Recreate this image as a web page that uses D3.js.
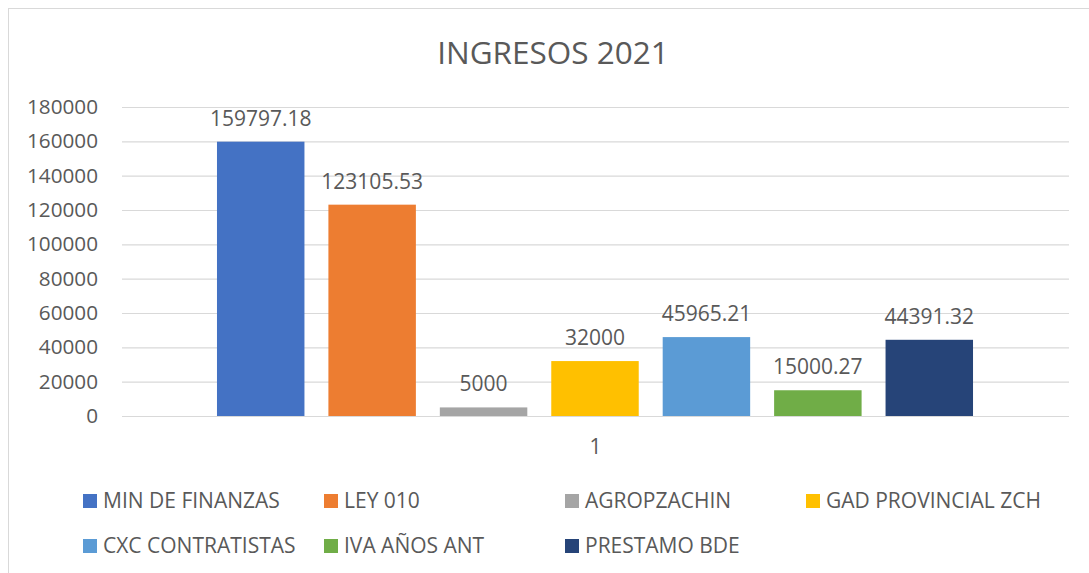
<!DOCTYPE html>
<html>
<head>
<meta charset="utf-8">
<script src="https://cdn.jsdelivr.net/npm/d3@7"></script>
<style>
	body { margin: 0; background: #fff; }
	text { font-family: "Open Sans", sans-serif; fill: #595959; }
</style>
</head>
<body>
<div id="chart-area"></div>
<script>

// Data
let seriesNames = ["MIN DE FINANZAS", "LEY 010", "AGROPZACHIN", "GAD PROVINCIAL ZCH",
	"CXC CONTRATISTAS", "IVA AÑOS ANT", "PRESTAMO BDE"];
let seriesValues = [159797.18, 123105.53, 5000, 32000, 45965.21, 15000.27, 44391.32];
let seriesColors = ["#4472C4", "#ED7D31", "#A5A5A5", "#FFC000", "#5B9BD5", "#70AD47", "#264478"];
let categories = ["1"];
let yTicks = [0, 20000, 40000, 60000, 80000, 100000, 120000, 140000, 160000, 180000];

// SVG Size
let width = 1089,
	height = 573;

let svg = d3.select("#chart-area")
	.append("svg")
	.attr("width", width)
	.attr("height", height);

// chart border
svg.append("rect")
	.attr("x", 8.5)
	.attr("y", 8.5)
	.attr("width", width + 20)
	.attr("height", height + 20)
	.attr("fill", "white")
	.attr("stroke", "#D9D9D9")
	.attr("stroke-width", 1);

let plot = { left: 122, right: 1069, top: 107, bottom: 416 };

let y = d3.scaleLinear()
	.domain([0, 180000])
	.range([plot.bottom, plot.top]);

let x0 = d3.scaleBand()
	.domain(categories)
	.range([plot.left, plot.right]);

let x1 = d3.scaleBand()
	.domain(seriesNames)
	.range([x0("1") + 83, x0("1") + x0.bandwidth() - 84])
	.paddingInner(0.215)
	.paddingOuter(0.1075);

// title
svg.append("text")
	.attr("x", 553)
	.attr("y", 64)
	.attr("text-anchor", "middle")
	.attr("font-size", 31.5)
	.text("INGRESOS 2021");

// y axis + gridlines
let yAxis = d3.axisLeft(y)
	.tickValues(yTicks)
	.tickSize(-(plot.right - plot.left))
	.tickPadding(24)
	.tickFormat(d3.format("d"));

let yg = svg.append("g")
	.attr("class", "axis y-axis")
	.attr("transform", "translate(" + plot.left + ",0)")
	.call(yAxis);
yg.select(".domain").remove();
yg.selectAll(".tick line").attr("stroke", "#D9D9D9").attr("stroke-width", 1.2);
yg.selectAll(".tick text")
	.attr("font-size", 20.7)
	.attr("font-family", "Open Sans, sans-serif")
	.attr("fill", "#595959");

// bars
let rows = seriesNames.map((name, i) => ({ name: name, value: seriesValues[i], color: seriesColors[i] }));

svg.selectAll("rect.bar")
	.data(rows)
	.enter()
	.append("rect")
	.attr("class", "bar")
	.attr("x", d => x1(d.name))
	.attr("y", d => y(d.value))
	.attr("width", x1.bandwidth())
	.attr("height", d => plot.bottom - y(d.value))
	.attr("fill", d => d.color);

// data labels
svg.selectAll("text.label")
	.data(rows)
	.enter()
	.append("text")
	.attr("class", "label")
	.attr("x", d => x1(d.name) + x1.bandwidth() / 2)
	.attr("y", d => y(d.value) - 16)
	.attr("text-anchor", "middle")
	.attr("font-size", 21)
	.text(d => d.value);

// category label
svg.append("text")
	.attr("x", x0("1") + x0.bandwidth() / 2)
	.attr("y", 454)
	.attr("text-anchor", "middle")
	.attr("font-size", 21)
	.text(categories[0]);

// legend
let legend = svg.selectAll("g.legend")
	.data(rows)
	.enter()
	.append("g")
	.attr("class", "legend")
	.attr("transform", (d, i) => "translate(" + (83 + (i % 4) * 241) + "," + (494 + Math.floor(i / 4) * 45) + ")");

legend.append("rect")
	.attr("width", 14)
	.attr("height", 14)
	.attr("fill", d => d.color);

legend.append("text")
	.attr("x", 20)
	.attr("y", 14)
	.attr("font-size", 21)
	.text(d => d.name);

</script>
</body>
</html>
